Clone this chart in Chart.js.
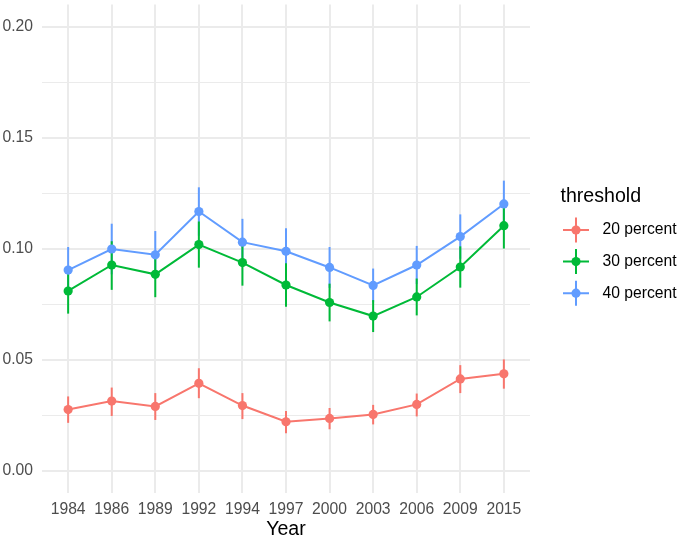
<!DOCTYPE html>
<html>
<head>
<meta charset="utf-8">
<script src="https://cdn.jsdelivr.net/npm/chart.js@4"></script>
<style>
  html, body { margin: 0; padding: 0; background: #fff; }
  #wrap { position: relative; width: 685px; height: 538px; }
</style>
</head>
<body>
<div id="wrap"><canvas id="c" width="685" height="538"></canvas></div>
<script>
const years = ['1984','1986','1989','1992','1994','1997','2000','2003','2006','2009','2015'];
const seriesNames = ['20 percent', '30 percent', '40 percent'];

const red   = [0.0276, 0.0314, 0.0290, 0.0394, 0.0294, 0.0221, 0.0236, 0.0254, 0.0299, 0.0414, 0.0437];
const redLo = [0.0216, 0.0247, 0.0229, 0.0327, 0.0233, 0.0169, 0.0187, 0.0209, 0.0245, 0.0350, 0.0370];
const redHi = [0.0335, 0.0375, 0.0350, 0.0462, 0.0350, 0.0269, 0.0283, 0.0297, 0.0348, 0.0476, 0.0502];

const green   = [0.0810, 0.0927, 0.0885, 0.1019, 0.0938, 0.0837, 0.0758, 0.0697, 0.0783, 0.0918, 0.1104];
const greenLo = [0.0708, 0.0815, 0.0782, 0.0915, 0.0834, 0.0739, 0.0673, 0.0625, 0.0700, 0.0825, 0.1001];
const greenHi = [0.0912, 0.1034, 0.0988, 0.1123, 0.1042, 0.0935, 0.0843, 0.0769, 0.0866, 0.1011, 0.1207];

const blue   = [0.0904, 0.0999, 0.0973, 0.1168, 0.1030, 0.0989, 0.0916, 0.0835, 0.0927, 0.1055, 0.1202];
const blueLo = [0.0800, 0.0885, 0.0866, 0.1059, 0.0925, 0.0885, 0.0824, 0.0759, 0.0841, 0.0955, 0.1097];
const blueHi = [0.1008, 0.1113, 0.1080, 0.1277, 0.1135, 0.1093, 0.1008, 0.0911, 0.1013, 0.1155, 0.1307];

const yTicks = [0, 0.025, 0.05, 0.075, 0.1, 0.125, 0.15, 0.175, 0.2];

const colors = ['#F8766D', '#00BA38', '#619CFF'];
const FONT = "'Liberation Sans', Arial, Helvetica, sans-serif";

function mk(label, vals, lo, hi, color, order) {
  return {
    label: label,
    data: vals.map((v, i) => ({ x: i, y: v })),
    lo: lo, hi: hi,
    borderColor: color,
    backgroundColor: color,
    pointBackgroundColor: color,
    pointBorderWidth: 0,
    pointRadius: 4.6,
    borderWidth: 2,
    tension: 0,
    order: order
  };
}

const errorBars = {
  id: 'errorBars',
  beforeDatasetsDraw(chart) {
    const ctx = chart.ctx;
    const xs = chart.scales.x, ys = chart.scales.y;
    ctx.save();
    ctx.lineWidth = 2;
    ctx.lineCap = 'butt';
    [2, 0, 1].forEach(di => {
      const ds = chart.data.datasets[di];
      ctx.strokeStyle = ds.borderColor;
      ds.data.forEach((p, i) => {
        const x = xs.getPixelForValue(p.x);
        ctx.beginPath();
        ctx.moveTo(x, ys.getPixelForValue(ds.lo[i]));
        ctx.lineTo(x, ys.getPixelForValue(ds.hi[i]));
        ctx.stroke();
      });
    });
    ctx.restore();
  }
};

const legendPlugin = {
  id: 'ggLegend',
  afterDraw(chart) {
    const ctx = chart.ctx;
    ctx.save();
    ctx.fillStyle = '#000';
    ctx.font = '19.6px ' + FONT;
    ctx.textAlign = 'left';
    ctx.textBaseline = 'alphabetic';
    ctx.fillText('threshold', 560.5, 201.5);
    const ys = [230, 261.6, 293.2];
    const kx = 576;
    seriesNames.forEach((name, i) => {
      const y = ys[i];
      const c = colors[i];
      ctx.strokeStyle = c;
      ctx.lineWidth = 2;
      ctx.beginPath();
      ctx.moveTo(563, y); ctx.lineTo(589, y);
      ctx.moveTo(kx, y - 12.5); ctx.lineTo(kx, y + 12.5);
      ctx.stroke();
      ctx.fillStyle = c;
      ctx.beginPath();
      ctx.arc(kx, y, 4.6, 0, Math.PI * 2);
      ctx.fill();
      ctx.fillStyle = '#000';
      ctx.font = '15.7px ' + FONT;
      ctx.textBaseline = 'middle';
      ctx.fillText(name, 602.5, y);
    });
    ctx.restore();
  }
};

new Chart(document.getElementById('c'), {
  type: 'line',
  data: {
    datasets: [
      mk(seriesNames[0], red, redLo, redHi, colors[0], 2),
      mk(seriesNames[1], green, greenLo, greenHi, colors[1], 1),
      mk(seriesNames[2], blue, blueLo, blueHi, colors[2], 0)
    ]
  },
  options: {
    responsive: false,
    animation: false,
    layout: { padding: { left: 0, right: 155, top: 1, bottom: 0 } },
    plugins: { legend: { display: false }, tooltip: { enabled: false } },
    scales: {
      x: {
        type: 'linear',
        min: -0.6, max: 10.6,
        afterBuildTicks: s => { s.ticks = years.map((_, i) => ({ value: i })); },
        afterFit: s => { s.height = 45; s.paddingLeft = 0; s.paddingRight = 0; },
        ticks: {
          autoSkip: false, maxRotation: 0, minRotation: 0,
          padding: 7,
          color: '#4D4D4D',
          font: { family: FONT, size: 15.7 },
          callback: v => years[v]
        },
        grid: { color: '#EBEBEB', lineWidth: 2, drawTicks: false },
        border: { display: false },
        title: {
          display: true, text: 'Year', color: '#000',
          font: { family: FONT, size: 19.6, lineHeight: 0.85 },
          padding: { top: 0, bottom: 0 }
        }
      },
      y: {
        min: -0.01, max: 0.21,
        afterBuildTicks: s => { s.ticks = yTicks.map(v => ({ value: v })); },
        afterFit: s => { s.width = 42; s.paddingTop = 0; s.paddingBottom = 0; },
        ticks: {
          autoSkip: false,
          padding: 9,
          color: '#4D4D4D',
          font: { family: FONT, size: 15.7 },
          callback: (v, i) => (i % 2 === 0 ? v.toFixed(2) : '')
        },
        grid: {
          color: '#EBEBEB',
          lineWidth: c => (c.index % 2 === 0 ? 2 : 1),
          drawTicks: false
        },
        border: { display: false }
      }
    }
  },
  plugins: [errorBars, legendPlugin]
});
</script>
</body>
</html>
